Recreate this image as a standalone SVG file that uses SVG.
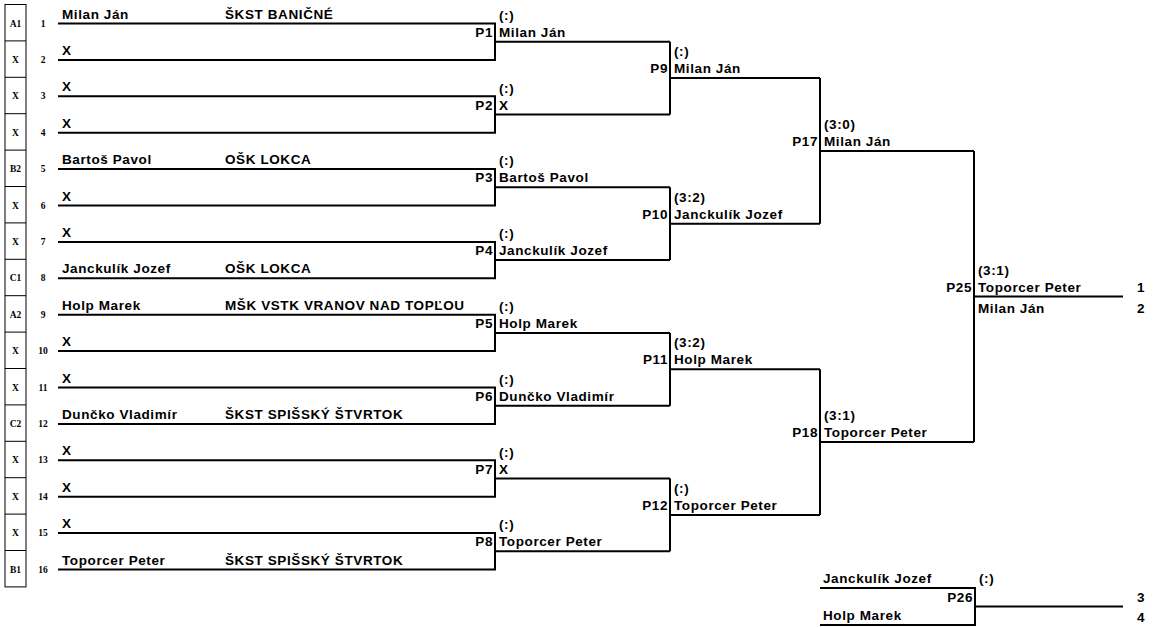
<svg xmlns="http://www.w3.org/2000/svg" width="1154" height="627" viewBox="0 0 1154 627">
<style>
.bg{fill:#fff}
.ln{fill:none;stroke:#000;stroke-width:2;stroke-linejoin:miter}
.bx{fill:none;stroke:#000;stroke-width:1}
.t{font-family:"Liberation Sans",Arial,sans-serif;font-weight:bold;font-size:13.5px;letter-spacing:0.6px;fill:#000}
.r{text-anchor:end}
.s{font-family:"Liberation Serif","Times New Roman",serif;font-weight:bold;font-size:9.5px;fill:#000;text-anchor:middle}
</style>
<rect class="bg" x="0" y="0" width="1154" height="627"/>
<g id="seed-box">
<rect class="bx" x="5" y="4.5" width="21" height="582.4"/>
<path class="bx" d="M5 40.9H26M5 77.3H26M5 113.7H26M5 150.1H26M5 186.5H26M5 222.9H26M5 259.3H26M5 295.7H26M5 332.1H26M5 368.5H26M5 404.9H26M5 441.3H26M5 477.7H26M5 514.1H26M5 550.5H26"/>
<text class="s" x="15.5" y="26.5">A1</text>
<text class="s" x="15.5" y="62.9">X</text>
<text class="s" x="15.5" y="99.3">X</text>
<text class="s" x="15.5" y="135.7">X</text>
<text class="s" x="15.5" y="172.1">B2</text>
<text class="s" x="15.5" y="208.5">X</text>
<text class="s" x="15.5" y="244.9">X</text>
<text class="s" x="15.5" y="281.3">C1</text>
<text class="s" x="15.5" y="317.7">A2</text>
<text class="s" x="15.5" y="354.1">X</text>
<text class="s" x="15.5" y="390.5">X</text>
<text class="s" x="15.5" y="426.9">C2</text>
<text class="s" x="15.5" y="463.3">X</text>
<text class="s" x="15.5" y="499.7">X</text>
<text class="s" x="15.5" y="536.1">X</text>
<text class="s" x="15.5" y="572.5">B1</text>
</g>
<g id="connectors">
<path class="ln" d="M58 23.5H495V59.9H58M495 41.7H670"/>
<path class="ln" d="M58 96.3H495V132.7H58M495 114.5H670"/>
<path class="ln" d="M58 169.1H495V205.5H58M495 187.3H670"/>
<path class="ln" d="M58 241.9H495V278.3H58M495 260.1H670"/>
<path class="ln" d="M58 314.7H495V351.1H58M495 332.9H670"/>
<path class="ln" d="M58 387.5H495V423.9H58M495 405.7H670"/>
<path class="ln" d="M58 460.3H495V496.7H58M495 478.5H670"/>
<path class="ln" d="M58 533.1H495V569.5H58M495 551.3H670"/>
<path class="ln" d="M670 41.7V114.5M670 78.1H820"/>
<path class="ln" d="M670 187.3V260.1M670 223.7H820"/>
<path class="ln" d="M670 332.9V405.7M670 369.3H820"/>
<path class="ln" d="M670 478.5V551.3M670 514.9H820"/>
<path class="ln" d="M820 78.1V223.7M820 150.9H974"/>
<path class="ln" d="M820 369.3V514.9M820 442.1H974"/>
<path class="ln" d="M974 150.9V442.1M974 296.5H1123"/>
<path class="ln" d="M820 588H975V625H820M975 606.5H1123"/>
</g>
<g id="entries">
<g id="e1"><text class="s" x="43" y="26.5">1</text><text class="t" x="62" y="18.5">Milan Ján</text><text class="t" x="225" y="18.5">ŠKST BANIČNÉ</text></g>
<g id="e2"><text class="s" x="43" y="62.9">2</text><text class="t" x="62" y="54.9">X</text></g>
<g id="e3"><text class="s" x="43" y="99.3">3</text><text class="t" x="62" y="91.3">X</text></g>
<g id="e4"><text class="s" x="43" y="135.7">4</text><text class="t" x="62" y="127.7">X</text></g>
<g id="e5"><text class="s" x="43" y="172.1">5</text><text class="t" x="62" y="164.1">Bartoš Pavol</text><text class="t" x="225" y="164.1">OŠK LOKCA</text></g>
<g id="e6"><text class="s" x="43" y="208.5">6</text><text class="t" x="62" y="200.5">X</text></g>
<g id="e7"><text class="s" x="43" y="244.9">7</text><text class="t" x="62" y="236.9">X</text></g>
<g id="e8"><text class="s" x="43" y="281.3">8</text><text class="t" x="62" y="273.3">Janckulík Jozef</text><text class="t" x="225" y="273.3">OŠK LOKCA</text></g>
<g id="e9"><text class="s" x="43" y="317.7">9</text><text class="t" x="62" y="309.7">Holp Marek</text><text class="t" x="225" y="309.7">MŠK VSTK VRANOV NAD TOPĽOU</text></g>
<g id="e10"><text class="s" x="43" y="354.1">10</text><text class="t" x="62" y="346.1">X</text></g>
<g id="e11"><text class="s" x="43" y="390.5">11</text><text class="t" x="62" y="382.5">X</text></g>
<g id="e12"><text class="s" x="43" y="426.9">12</text><text class="t" x="62" y="418.9">Dunčko Vladimír</text><text class="t" x="225" y="418.9">ŠKST SPIŠSKÝ ŠTVRTOK</text></g>
<g id="e13"><text class="s" x="43" y="463.3">13</text><text class="t" x="62" y="455.3">X</text></g>
<g id="e14"><text class="s" x="43" y="499.7">14</text><text class="t" x="62" y="491.7">X</text></g>
<g id="e15"><text class="s" x="43" y="536.1">15</text><text class="t" x="62" y="528.1">X</text></g>
<g id="e16"><text class="s" x="43" y="572.5">16</text><text class="t" x="62" y="564.5">Toporcer Peter</text><text class="t" x="225" y="564.5">ŠKST SPIŠSKÝ ŠTVRTOK</text></g>
</g>
<g id="matches">
<g id="P1"><text class="t r" x="493" y="36.7">P1</text><text class="t" x="499" y="19.7">(:)</text><text class="t" x="499" y="36.7">Milan Ján</text></g>
<g id="P2"><text class="t r" x="493" y="109.5">P2</text><text class="t" x="499" y="92.5">(:)</text><text class="t" x="499" y="109.5">X</text></g>
<g id="P3"><text class="t r" x="493" y="182.3">P3</text><text class="t" x="499" y="165.3">(:)</text><text class="t" x="499" y="182.3">Bartoš Pavol</text></g>
<g id="P4"><text class="t r" x="493" y="255.1">P4</text><text class="t" x="499" y="238.1">(:)</text><text class="t" x="499" y="255.1">Janckulík Jozef</text></g>
<g id="P5"><text class="t r" x="493" y="327.9">P5</text><text class="t" x="499" y="310.9">(:)</text><text class="t" x="499" y="327.9">Holp Marek</text></g>
<g id="P6"><text class="t r" x="493" y="400.7">P6</text><text class="t" x="499" y="383.7">(:)</text><text class="t" x="499" y="400.7">Dunčko Vladimír</text></g>
<g id="P7"><text class="t r" x="493" y="473.5">P7</text><text class="t" x="499" y="456.5">(:)</text><text class="t" x="499" y="473.5">X</text></g>
<g id="P8"><text class="t r" x="493" y="546.3">P8</text><text class="t" x="499" y="529.3">(:)</text><text class="t" x="499" y="546.3">Toporcer Peter</text></g>
<g id="P9"><text class="t r" x="668" y="73.1">P9</text><text class="t" x="674" y="56.1">(:)</text><text class="t" x="674" y="73.1">Milan Ján</text></g>
<g id="P10"><text class="t r" x="668" y="218.7">P10</text><text class="t" x="674" y="201.7">(3:2)</text><text class="t" x="674" y="218.7">Janckulík Jozef</text></g>
<g id="P11"><text class="t r" x="668" y="364.3">P11</text><text class="t" x="674" y="347.3">(3:2)</text><text class="t" x="674" y="364.3">Holp Marek</text></g>
<g id="P12"><text class="t r" x="668" y="509.9">P12</text><text class="t" x="674" y="492.9">(:)</text><text class="t" x="674" y="509.9">Toporcer Peter</text></g>
<g id="P17"><text class="t r" x="818" y="145.9">P17</text><text class="t" x="824" y="128.9">(3:0)</text><text class="t" x="824" y="145.9">Milan Ján</text></g>
<g id="P18"><text class="t r" x="818" y="437.1">P18</text><text class="t" x="824" y="420.1">(3:1)</text><text class="t" x="824" y="437.1">Toporcer Peter</text></g>
<g id="P25"><text class="t r" x="972" y="291.5">P25</text><text class="t" x="978" y="274.5">(3:1)</text><text class="t" x="978" y="291.5">Toporcer Peter</text><text class="t" x="978" y="312.5">Milan Ján</text><text class="t" x="1137" y="291.5">1</text><text class="t" x="1137" y="312.5">2</text></g>
<g id="P26"><text class="t" x="823" y="583">Janckulík Jozef</text><text class="t" x="823" y="620">Holp Marek</text><text class="t r" x="973" y="602">P26</text><text class="t" x="979" y="583">(:)</text><text class="t" x="1137" y="602">3</text><text class="t" x="1137" y="622">4</text></g>
</g>
</svg>
